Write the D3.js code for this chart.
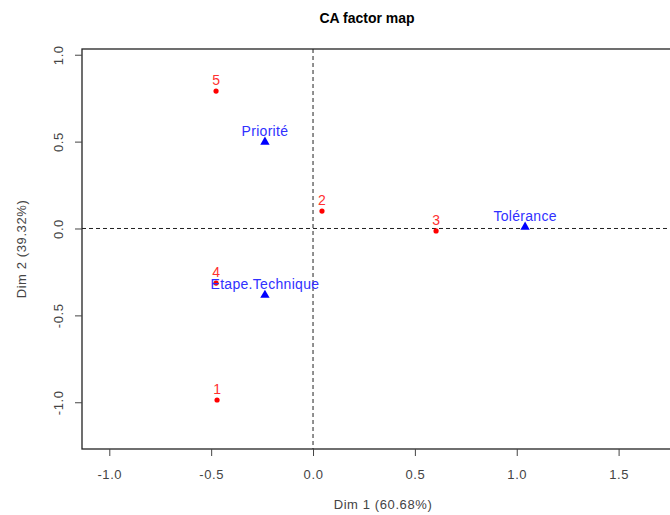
<!DOCTYPE html>
<html>
<head>
<meta charset="utf-8">
<script src="https://cdn.jsdelivr.net/npm/d3@7/dist/d3.min.js"></script>
<style>
  html, body { margin: 0; padding: 0; background: #fff; }
  svg { display: block; }
  text { font-family: "Liberation Sans", Arial, sans-serif; }
</style>
</head>
<body>
<svg id="chart" width="670" height="515"></svg>
<script>
// Row points (red circles)
const rowLabels = ["1", "2", "3", "4", "5"];
const rowDim1 = [-0.471, 0.044, 0.604, -0.476, -0.476];
const rowDim2 = [-0.987, 0.100, -0.014, -0.314, 0.791];

// Column points (blue triangles)
const colLabels = ["Priorité", "Etape.Technique", "Tolérance"];
const colDim1 = [-0.236, -0.236, 1.041];
const colDim2 = [0.498, -0.383, 0.009];

// Axis ticks and titles
const xTicks = [-1.0, -0.5, 0.0, 0.5, 1.0, 1.5];
const yTicks = [-1.0, -0.5, 0.0, 0.5, 1.0];
const xDomain = [-1.134, 1.821];
const yDomain = [-1.269, 1.033];
const chartTitle = "CA factor map";
const xTitle = "Dim 1 (60.68%)";
const yTitle = "Dim 2 (39.32%)";

const svg = d3.select("#chart");
const plotLeft = 82, plotRight = 684, plotTop = 49, plotBottom = 449;

const x = d3.scaleLinear().domain(xDomain).range([plotLeft, plotRight]);
const y = d3.scaleLinear().domain(yDomain).range([plotBottom, plotTop]);

const axisGrey = "#444";
// one decimal, plain hyphen for negatives
const fmt = v => v.toFixed(1);

// Plot frame
svg.append("rect")
  .attr("x", plotLeft).attr("y", plotTop)
  .attr("width", plotRight - plotLeft).attr("height", plotBottom - plotTop)
  .attr("fill", "none").attr("stroke", "#222").attr("stroke-width", 1.3);

// Origin reference lines
svg.append("line")
  .attr("x1", x(0)).attr("x2", x(0))
  .attr("y1", plotTop).attr("y2", plotBottom)
  .attr("stroke", "#222").attr("stroke-dasharray", "4,3");
svg.append("line")
  .attr("x1", plotLeft).attr("x2", plotRight)
  .attr("y1", y(0)).attr("y2", y(0))
  .attr("stroke", "#222").attr("stroke-dasharray", "4,3");

// X axis
const xAxis = svg.append("g")
  .attr("transform", `translate(0,${plotBottom})`)
  .call(d3.axisBottom(x).tickValues(xTicks).tickFormat(fmt)
    .tickSize(7).tickPadding(14));
xAxis.select(".domain").remove();
xAxis.selectAll(".tick line").attr("stroke", axisGrey);
xAxis.selectAll(".tick text")
  .attr("fill", axisGrey)
  .style("font-size", "13px")
  .style("letter-spacing", "0.6px");

// Y axis (labels rotated, as in base graphics)
const yAxis = svg.append("g")
  .attr("transform", `translate(${plotLeft},0)`)
  .call(d3.axisLeft(y).tickValues(yTicks).tickFormat(fmt).tickSize(7));
yAxis.select(".domain").remove();
yAxis.selectAll(".tick line").attr("stroke", axisGrey);
yAxis.selectAll(".tick text")
  .attr("fill", axisGrey)
  .attr("x", null)
  .attr("text-anchor", "middle")
  .attr("transform", "translate(-24,0) rotate(-90)")
  .attr("dy", "0.35em")
  .style("font-size", "13px")
  .style("letter-spacing", "0.6px");

// Titles
svg.append("text")
  .attr("x", 367).attr("y", 23)
  .attr("text-anchor", "middle")
  .style("font-size", "14px").style("font-weight", "bold")
  .attr("fill", "#000")
  .text(chartTitle);

svg.append("text")
  .attr("x", 383).attr("y", 509)
  .attr("text-anchor", "middle")
  .style("font-size", "13px").style("letter-spacing", "0.6px")
  .attr("fill", axisGrey)
  .text(xTitle);

svg.append("text")
  .attr("transform", `translate(26,${(plotTop + plotBottom) / 2}) rotate(-90)`)
  .attr("text-anchor", "middle")
  .style("font-size", "13px").style("letter-spacing", "0.6px")
  .attr("fill", axisGrey)
  .text(yTitle);

// Row points
const rows = rowLabels.map((lab, i) => ({ lab, d1: rowDim1[i], d2: rowDim2[i] }));
svg.append("g").selectAll("circle").data(rows).join("circle")
  .attr("cx", d => x(d.d1)).attr("cy", d => y(d.d2))
  .attr("r", 2.6).attr("fill", "#ff0000");
svg.append("g").selectAll("text").data(rows).join("text")
  .attr("x", d => x(d.d1)).attr("y", d => y(d.d2) - 6)
  .attr("text-anchor", "middle")
  .style("font-size", "14px")
  .attr("fill", "#ff3030")
  .text(d => d.lab);

// Column points
const cols = colLabels.map((lab, i) => ({ lab, d1: colDim1[i], d2: colDim2[i] }));
svg.append("g").selectAll("path").data(cols).join("path")
  .attr("transform", d => `translate(${x(d.d1)},${y(d.d2)})`)
  .attr("d", d3.symbol().type(d3.symbolTriangle).size(38))
  .attr("fill", "#0000ff");
svg.append("g").selectAll("text").data(cols).join("text")
  .attr("x", d => x(d.d1)).attr("y", d => y(d.d2) - 6)
  .attr("text-anchor", "middle")
  .style("font-size", "14px").style("letter-spacing", "0.3px")
  .attr("fill", "#3030ff")
  .text(d => d.lab);
</script>
</body>
</html>
